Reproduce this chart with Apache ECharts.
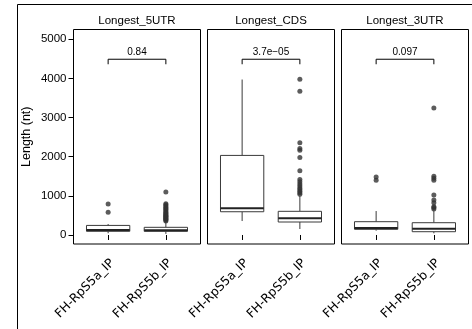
<!DOCTYPE html>
<html><head><meta charset="utf-8">
<script src="https://cdn.jsdelivr.net/npm/echarts@6/dist/echarts.min.js"></script>
<style>html,body{margin:0;padding:0;background:#fff}#c{width:472px;height:329px}</style>
</head><body><div id="c"></div>
<script>
// ---- data ----
const categories = ['FH-RpS5a_IP', 'FH-RpS5b_IP'];
const panelTitles = ['Longest_5UTR', 'Longest_CDS', 'Longest_3UTR'];
const yTicks = [0, 1000, 2000, 3000, 4000, 5000];
const pValues = ['0.84', '3.7e\u221205', '0.097'];
// [lower whisker, Q1, median, Q3, upper whisker]
const utr5Box = [[45, 94, 125, 245, 280], [28, 94, 122, 196, 340]];
const cdsBox = [[357, 594, 681, 2033, 3972], [153, 332, 426, 605, 1000]];
const utr3Box = [[110, 145, 179, 340, 612], [43, 84, 161, 314, 630]];
const utr5OutA = [579, 791];
const utr5OutB = [360, 380, 400, 420, 440, 460, 480, 500, 520, 540, 560, 590, 620, 650, 680, 710, 740, 770, 800, 1100];
const cdsOutA = [];
const cdsOutB = [1040, 1080, 1120, 1160, 1200, 1250, 1300, 1360, 1421, 1640, 1982, 2168, 2211, 2355, 3673, 3980];
const utr3OutA = [1400, 1480];
const utr3OutB = [663, 700, 722, 824, 893, 1020, 1400, 1450, 1500, 3247];
// bracket: [y top, y tick end]
const bracketY = [4490, 4362];

const boxes = [utr5Box, cdsBox, utr3Box];
const outs = [[utr5OutA, utr5OutB], [cdsOutA, cdsOutB], [utr3OutA, utr3OutB]];

const FONT = '"Liberation Sans", Arial, Helvetica, sans-serif';
const XFONT = '"DejaVu Sans", Verdana, sans-serif';
const gridLefts = [73.5, 207.5, 341.5];
const GW = 127, GT = 29.5, GH = 214.5;
const YMIN = -230, YMAX = 5250;

const chart = echarts.init(document.getElementById('c'), null, {renderer: 'canvas'});

const grids = [], xAxes = [], yAxes = [], series = [], graphics = [];
gridLefts.forEach((l, i) => {
  grids.push({left: l, top: GT, width: GW, height: GH, show: true, borderColor: '#000', borderWidth: 1, backgroundColor: 'transparent'});
  xAxes.push({
    gridIndex: i, type: 'value', min: 0.4, max: 2.6,
    axisLine: {show: false}, splitLine: {show: false},
    axisTick: {show: true, length: 5, customValues: [1, 2], lineStyle: {color: '#000'}},
    axisLabel: {show: true, customValues: [1, 2], rotate: 45, margin: 13, verticalAlign: 'top', align: 'right',
      fontSize: 12.3, color: '#000', fontFamily: XFONT,
      formatter: v => categories[Math.round(v) - 1]}
  });
  yAxes.push({
    gridIndex: i, type: 'value', min: YMIN, max: YMAX,
    axisLine: {show: false}, splitLine: {show: false},
    axisTick: {show: i === 0, length: 5, customValues: yTicks, lineStyle: {color: '#000'}},
    axisLabel: {show: i === 0, customValues: yTicks, margin: 7, fontSize: 11.5, color: '#000', fontFamily: FONT,
      formatter: v => String(v)},
    name: i === 0 ? 'Length (nt)' : '', nameLocation: 'middle', nameGap: 40, nameRotate: 90,
    nameTextStyle: {fontSize: 12.5, color: '#000', fontFamily: FONT}
  });
  const boxData = boxes[i].map((b, k) => [k + 1].concat(b));
  series.push({
    type: 'custom', xAxisIndex: i, yAxisIndex: i, data: boxData,
    encode: {x: 0, y: [1, 2, 3, 4, 5]},
    renderItem: (params, api) => {
      const x = api.value(0);
      const hw = api.size([0.75, 0])[0] / 2;
      const p = [1, 2, 3, 4, 5].map(d => api.coord([x, api.value(d)]));
      const cx = p[0][0];
      const st = {stroke: '#3a3a3a', lineWidth: 1, fill: null};
      return {type: 'group', children: [
        {type: 'line', shape: {x1: cx, y1: p[0][1], x2: cx, y2: p[1][1]}, style: st},
        {type: 'line', shape: {x1: cx, y1: p[3][1], x2: cx, y2: p[4][1]}, style: st},
        {type: 'rect', shape: {x: cx - hw, y: p[3][1], width: 2 * hw, height: p[1][1] - p[3][1]}, style: {stroke: '#3a3a3a', lineWidth: 1, fill: '#fff'}},
        {type: 'line', shape: {x1: cx - hw, y1: p[2][1], x2: cx + hw, y2: p[2][1]}, style: {stroke: '#222', lineWidth: 2}}
      ]};
    }
  });
  const od = [];
  outs[i].forEach((arr, k) => arr.forEach(v => od.push([k + 1, v])));
  series.push({type: 'scatter', xAxisIndex: i, yAxisIndex: i, data: od, symbolSize: 5,
    itemStyle: {color: '#333'}, silent: true});
  series.push({
    type: 'custom', xAxisIndex: i, yAxisIndex: i, data: [[1, 2, bracketY[0], bracketY[1]]],
    encode: {x: [0, 1], y: [2, 3]},
    renderItem: (params, api) => {
      const a = api.coord([api.value(0), api.value(2)]);
      const b = api.coord([api.value(1), api.value(2)]);
      const e = api.coord([api.value(0), api.value(3)]);
      return {type: 'group', children: [
        {type: 'polyline', shape: {points: [[a[0], e[1]], a, b, [b[0], e[1]]]}, style: {stroke: '#000', lineWidth: 1, fill: null}},
        {type: 'text', style: {x: (a[0] + b[0]) / 2, y: a[1] - 7, text: pValues[i], textAlign: 'center', textVerticalAlign: 'middle', fontSize: 10, fontFamily: FONT, fill: '#000'}}
      ]};
    }
  });
  graphics.push({type: 'text', x: l + GW / 2, y: 20.5,
    style: {text: panelTitles[i], textAlign: 'center', textVerticalAlign: 'middle', fontSize: 11.5, fontFamily: FONT, fill: '#000'}});
});
graphics.push({type: 'rect', shape: {x: 17.5, y: 4.5, width: 520, height: 400}, style: {stroke: '#000', lineWidth: 1, fill: null}, z: -1});

chart.setOption({
  animation: false,
  grid: grids, xAxis: xAxes, yAxis: yAxes, series: series, graphic: graphics
});
</script></body></html>
